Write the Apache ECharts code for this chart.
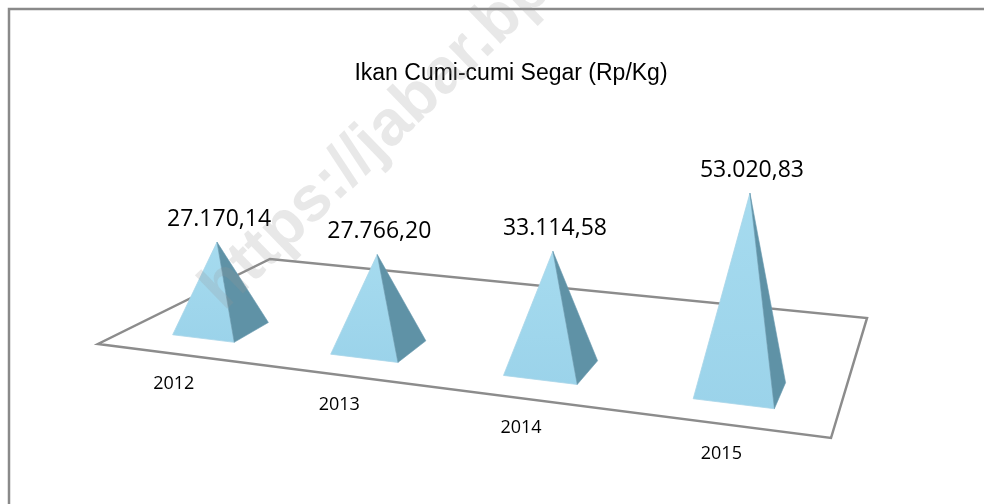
<!DOCTYPE html>
<html><head><meta charset="utf-8">
<script src="https://cdn.jsdelivr.net/npm/echarts@6/dist/echarts.min.js"></script>
<style>html,body{margin:0;padding:0;background:#fff}#c{width:984px;height:504px}</style>
</head><body><div id="c"></div>
<script>
// ---- data ----
const categories = ['2012', '2013', '2014', '2015'];
const values = [27170.14, 27766.20, 33114.58, 53020.83];
const valueLabels = ['27.170,14', '27.766,20', '33.114,58', '53.020,83'];
const chartTitle = 'Ikan Cumi-cumi Segar (Rp/Kg)';
const watermark = 'https://jabar.bps.go.id';

// ---- layout (3D floor projection) ----
const floorFL = [98, 344], floorFR = [831, 438], floorBR = [867, 318], floorBL = [270, 259];
function makeHomography(p0, p1, p2, p3) {
  const dx1 = p1[0] - p2[0], dx2 = p3[0] - p2[0], dx3 = p0[0] - p1[0] + p2[0] - p3[0];
  const dy1 = p1[1] - p2[1], dy2 = p3[1] - p2[1], dy3 = p0[1] - p1[1] + p2[1] - p3[1];
  const den = dx1 * dy2 - dx2 * dy1;
  const g = (dx3 * dy2 - dx2 * dy3) / den, h = (dx1 * dy3 - dx3 * dy1) / den;
  const a = p1[0] - p0[0] + g * p1[0], b = p3[0] - p0[0] + h * p3[0], c = p0[0];
  const d = p1[1] - p0[1] + g * p1[1], e = p3[1] - p0[1] + h * p3[1], f = p0[1];
  return function (u, w) {
    const D = g * u + h * w + 1;
    return [(a * u + b * w + c) / D, (d * u + e * w + f) / D, D];
  };
}
const proj = makeHomography(floorFL, floorFR, floorBR, floorBL);
const depthFront = 0.145, depthBack = 0.344, baseFrac = 0.2;
const vanishX = 478, vanishDist = 5285, heightExp = 1.17;

const chart = echarts.init(document.getElementById('c'), null, {renderer: 'canvas'});
chart.setOption({
  backgroundColor: '#ffffff',
  animation: false,
  title: {
    text: chartTitle, left: 506, top: 57, textAlign: 'center',
    textStyle: {fontFamily: 'Liberation Sans', fontSize: 23, fontWeight: 'normal', color: '#000'}
  },
  grid: {left: 100, width: 800, top: 100, height: 199},
  xAxis: {type: 'category', data: categories, show: false},
  yAxis: {type: 'value', min: 0, max: 60000, show: false},
  graphic: [
    {type: 'rect', z: 0, silent: true, shape: {x: 9, y: 9, width: 1200, height: 800},
     style: {fill: 'none', stroke: '#8a8a8a', lineWidth: 2.5}},
    {type: 'text', z: 100, silent: true, x: 234, y: 322, rotation: 0.77,
     style: {text: watermark, fontFamily: 'Liberation Sans', fontWeight: 'bold', fontSize: 64,
             fill: 'rgba(150,150,150,0.22)', align: 'left', verticalAlign: 'bottom'}}
  ],
  series: [
    {
      type: 'custom', name: 'floor', silent: true, z: 1,
      data: [[0, 0]],
      renderItem: function () {
        const pts = [proj(0, 0), proj(1, 0), proj(1, 1), proj(0, 1)].map(p => [p[0], p[1]]);
        return {type: 'polygon', shape: {points: pts},
                style: {fill: 'none', stroke: '#8c8c8c', lineWidth: 2.5, lineJoin: 'miter'}};
      }
    },
    {
      type: 'custom', name: 'pyramids', z: 2,
      data: categories.map((c, i) => [i, values[i]]),
      renderItem: function (params, api) {
        const i = api.value(0), v = api.value(1);
        const cs = params.coordSys;
        const p0 = api.coord([i, 0]), p1 = api.coord([i, v]);
        const band = api.size([1, 0])[0];
        const U = (p0[0] - cs.x) / cs.width;
        const hu = band * baseFrac / cs.width;
        const c = proj(U, (depthFront + depthBack) / 2);
        const hScr = (p0[1] - p1[1]) / Math.pow(c[2], heightExp);
        const apex = [c[0] + hScr * (c[0] - vanishX) / vanishDist, c[1] - hScr];
        const FL = proj(U - hu, depthFront), FR = proj(U + hu, depthFront), BR = proj(U + hu, depthBack);
        const front = proj(U, 0);
        return {
          type: 'group',
          children: [
            {type: 'polygon', shape: {points: [apex, [FL[0], FL[1]], [FR[0], FR[1]]]},
             style: {fill: new echarts.graphic.LinearGradient(0, 0, 0, 1, [
               {offset: 0, color: '#a6dbef'}, {offset: 1, color: '#9bd3ea'}]),
               stroke: '#a9d6e8', lineWidth: 0.8}},
            {type: 'polygon', shape: {points: [apex, [FR[0], FR[1]], [BR[0], BR[1]]]},
             style: {fill: '#5f92a6', stroke: '#6a9bb0', lineWidth: 0.6}},
            {type: 'text', x: apex[0] + 2, y: apex[1] - 23,
             style: {text: valueLabels[i], fontFamily: 'Open Sans', fontSize: 23, fill: '#000',
                     align: 'center', verticalAlign: 'middle'}},
            {type: 'text', x: front[0] - 1.5, y: front[1] + 29.5,
             style: {text: categories[i], fontFamily: 'Open Sans', fontSize: 18, fill: '#000',
                     align: 'center', verticalAlign: 'middle'}}
          ]
        };
      }
    }
  ]
});
</script></body></html>
